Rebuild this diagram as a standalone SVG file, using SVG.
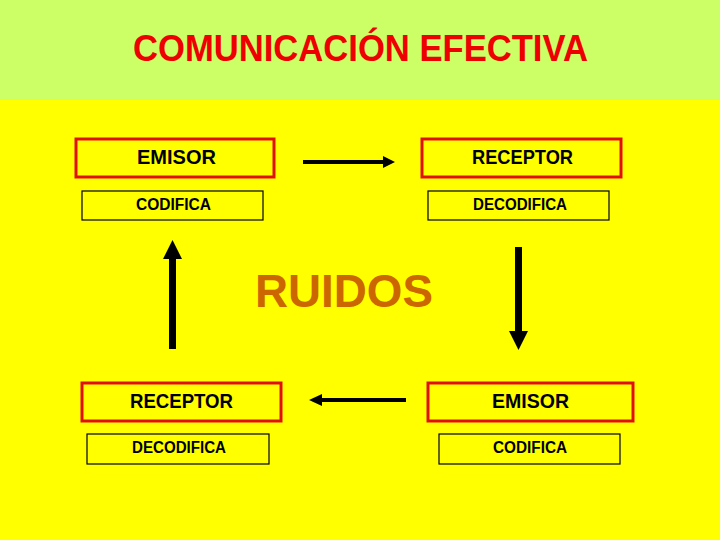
<svg xmlns="http://www.w3.org/2000/svg" width="720" height="540" viewBox="0 0 720 540">
<style>
.big{fill:none;stroke:#E01010;stroke-width:3}
.small{fill:none;stroke:#000;stroke-width:1.2}
.t1{font-family:"Liberation Sans",Arial,sans-serif;font-weight:bold;font-size:21px;fill:#000}
.t2{font-family:"Liberation Sans",Arial,sans-serif;font-weight:bold;font-size:16px;fill:#000}
.shaft{stroke:#000;fill:none}
.head{fill:#000}
</style>
<rect x="0" y="0" width="720" height="540" fill="#FFFF00"/>
<rect x="0" y="0" width="720" height="100" fill="#CCFF66"/>
<text x="133" y="61" textLength="455" lengthAdjust="spacingAndGlyphs" font-family="'Liberation Sans',Arial,sans-serif" font-weight="bold" font-size="37" fill="#EE0000">COMUNICACIÓN EFECTIVA</text>
<text x="255" y="307" textLength="178" lengthAdjust="spacingAndGlyphs" font-family="'Liberation Sans',Arial,sans-serif" font-weight="bold" font-size="47" fill="#CC6600">RUIDOS</text>

<g id="emisor1">
<rect class="big" x="76" y="139" width="198" height="38"/>
<text class="t1" x="137" y="164" textLength="79" lengthAdjust="spacingAndGlyphs">EMISOR</text>
<rect class="small" x="82" y="191" width="181" height="29"/>
<text class="t2" x="136" y="210" textLength="75" lengthAdjust="spacingAndGlyphs">CODIFICA</text>
</g>
<g id="receptor1">
<rect class="big" x="422" y="139" width="199" height="38"/>
<text class="t1" x="472" y="164" textLength="101" lengthAdjust="spacingAndGlyphs">RECEPTOR</text>
<rect class="small" x="428" y="191" width="181" height="29"/>
<text class="t2" x="473" y="210" textLength="94" lengthAdjust="spacingAndGlyphs">DECODIFICA</text>
</g>
<g id="receptor2">
<rect class="big" x="82" y="383" width="199" height="38"/>
<text class="t1" x="130" y="408" textLength="103" lengthAdjust="spacingAndGlyphs">RECEPTOR</text>
<rect class="small" x="87" y="434" width="182" height="30"/>
<text class="t2" x="132" y="453" textLength="94" lengthAdjust="spacingAndGlyphs">DECODIFICA</text>
</g>
<g id="emisor2">
<rect class="big" x="428" y="383" width="205" height="38"/>
<text class="t1" x="492" y="408" textLength="77" lengthAdjust="spacingAndGlyphs">EMISOR</text>
<rect class="small" x="439" y="434" width="181" height="30"/>
<text class="t2" x="493" y="453" textLength="74" lengthAdjust="spacingAndGlyphs">CODIFICA</text>
</g>

<g id="connectors">
<line class="shaft" x1="303" y1="162" x2="385" y2="162" stroke-width="4"/>
<polygon class="head" points="383,156 395,162 383,168"/>
<line class="shaft" x1="406" y1="400" x2="320" y2="400" stroke-width="4"/>
<polygon class="head" points="322,394 309,400 322,406"/>
<line class="shaft" x1="172.5" y1="349" x2="172.5" y2="257" stroke-width="7"/>
<polygon class="head" points="163,259 172.5,240 182,259"/>
<line class="shaft" x1="518.5" y1="247" x2="518.5" y2="333" stroke-width="7"/>
<polygon class="head" points="509,331 518.5,350 528,331"/>
</g>
</svg>
